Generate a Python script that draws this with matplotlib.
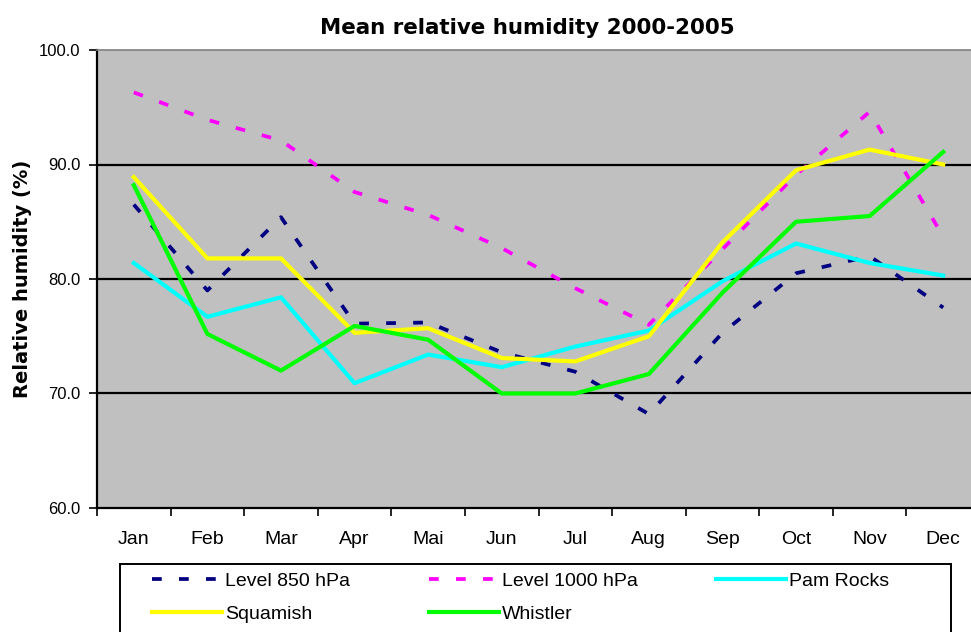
import matplotlib
matplotlib.use("Agg")
import matplotlib.pyplot as plt
from matplotlib.patches import Rectangle

# Monthly mean relative humidity (%), 2000-2005
months = ["Jan", "Feb", "Mar", "Apr", "Mai", "Jun",
          "Jul", "Aug", "Sep", "Oct", "Nov", "Dec"]
level_850 = [86.5, 79.0, 85.4, 76.1, 76.2, 73.6, 71.9, 68.2, 75.3, 80.5, 82.0, 77.5]
level_1000 = [96.3, 93.9, 92.1, 87.6, 85.6, 82.7, 79.2, 76.0, 82.6, 89.1, 94.6, 83.7]
pam_rocks = [81.4, 76.7, 78.4, 70.9, 73.4, 72.3, 74.1, 75.5, 79.8, 83.1, 81.4, 80.3]
squamish = [88.9, 81.8, 81.8, 75.3, 75.7, 73.1, 72.8, 75.0, 83.2, 89.5, 91.3, 90.0]
whistler = [88.2, 75.2, 72.0, 75.9, 74.7, 70.0, 70.0, 71.7, 78.8, 85.0, 85.5, 91.1]

plt.rcParams["font.family"] = ["Liberation Sans", "DejaVu Sans"]

W, H = 971, 632
fig = plt.figure(figsize=(W / 100, H / 100), dpi=100)
fig.patch.set_facecolor("white")

# plot area runs slightly past the right edge of the figure
ax = fig.add_axes([97 / W, 1 - 508 / H, 883 / W, 458 / H])
ax.set_facecolor("#c0c0c0")

x = list(range(len(months)))
dash = (0, (2.6, 4.6))
l850, = ax.plot(x, level_850, color="#000080", lw=2.7, linestyle=dash,
                label="Level 850 hPa")
l1000, = ax.plot(x, level_1000, color="#ff00ff", lw=2.7, linestyle=dash,
                 label="Level 1000 hPa")
lpam, = ax.plot(x, pam_rocks, color="#00ffff", lw=3.0, label="Pam Rocks")
lsqu, = ax.plot(x, squamish, color="#ffff00", lw=3.0, label="Squamish")
lwhi, = ax.plot(x, whistler, color="#00ff00", lw=3.0, label="Whistler")

ax.set_xlim(-0.5, len(months) - 0.5)
ax.set_ylim(60, 100)

# horizontal gridlines
for v in [70, 80, 90]:
    ax.axhline(v, color="black", lw=1.6, zorder=0.5)

ax.set_yticks([60, 70, 80, 90, 100])
ax.set_yticklabels([f"{v:.1f}" for v in [60, 70, 80, 90, 100]], fontsize=12)
ax.tick_params(axis="y", direction="out", length=6, width=1.2, pad=6)

# ticks between categories, labels centred on each month
ax.set_xticks([i - 0.5 for i in range(len(months) + 1)])
ax.set_xticklabels([])
ax.set_xticks(x, minor=True)
ax.set_xticklabels(months, minor=True, fontsize=14)
ax.tick_params(axis="x", which="major", direction="out", length=6, width=1.2)
ax.tick_params(axis="x", which="minor", length=0, pad=16.5)

ax.spines["left"].set_linewidth(1.6)
ax.spines["bottom"].set_linewidth(1.6)
ax.spines["top"].set_color("#808080")
ax.spines["top"].set_linewidth(1.2)
ax.spines["right"].set_visible(False)

fig.text(527 / W, 1 - 28 / H, "Mean relative humidity 2000-2005",
         ha="center", va="center", fontsize=15.4, fontweight="bold",
         family="DejaVu Sans")
fig.text(23 / W, 1 - 279 / H, "Relative humidity (%)", rotation=90,
         ha="center", va="center", fontsize=14, fontweight="bold",
         family="DejaVu Sans")

# legend frame, bottom edge runs off the figure
fig.patches.append(Rectangle((120 / W, -0.02), (951 - 120) / W, 0.02 + 1 - 564 / H,
                             transform=fig.transFigure, facecolor="white",
                             edgecolor="black", lw=1.4, zorder=1))
handles = [l850, lsqu, l1000, lwhi, lpam]
fig.legend(handles, [h.get_label() for h in handles], ncol=3,
           loc="upper left", bbox_to_anchor=(152 / W, 1 - 572 / H),
           frameon=False, fontsize=14, handlelength=3.6, handletextpad=0.15,
           columnspacing=4.05, labelspacing=0.8, borderaxespad=0, borderpad=0)

fig.savefig("out.png", dpi=100)
